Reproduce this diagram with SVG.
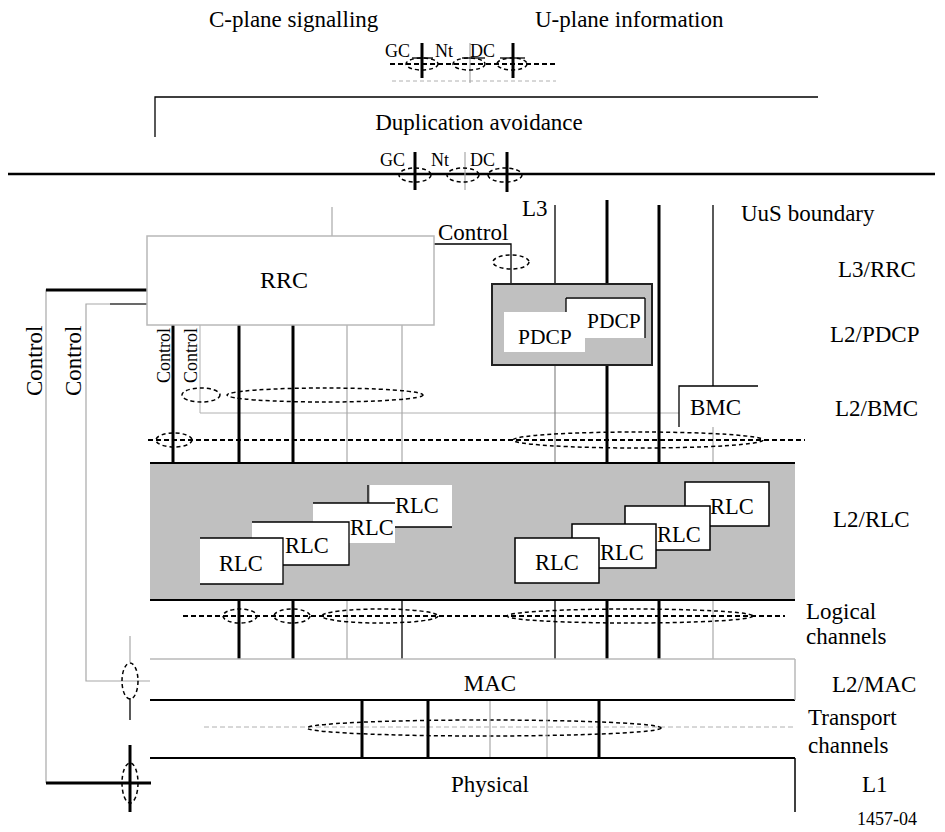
<svg xmlns="http://www.w3.org/2000/svg" width="945" height="832" viewBox="0 0 945 832">
<style>
text{font-family:"Liberation Serif","Times New Roman",serif;fill:#000}
.t{font-size:23px}
.r{font-size:22.5px}
.s{font-size:18px}
.k{stroke:#000;stroke-width:3;fill:none}
.n{stroke:#000;stroke-width:1.3;fill:none}
.g{stroke:#a8a8a8;stroke-width:1.2;fill:none}
.e{stroke:#000;stroke-width:1.5;fill:none;stroke-dasharray:4,3}
.d{stroke:#000;stroke-width:2;fill:none;stroke-dasharray:5,3}
.box{fill:#fff;stroke:#000;stroke-width:1.5}
</style>
<rect width="945" height="832" fill="#fff"/>

<g id="labels">
<text class="t" x="209" y="27">C-plane signalling</text>
<text class="t" x="535" y="27">U-plane information</text>
<text class="t" x="479" y="130" text-anchor="middle">Duplication avoidance</text>
<text class="t" x="522" y="216">L3</text>
<text class="t" x="741" y="221">UuS boundary</text>
<text class="t" x="838" y="277">L3/RRC</text>
<text class="t" x="830" y="342">L2/PDCP</text>
<text class="t" x="835" y="416">L2/BMC</text>
<text class="t" x="833" y="527">L2/RLC</text>
<text class="t" x="806" y="619">Logical</text>
<text class="t" x="806" y="644">channels</text>
<text class="t" x="832" y="692">L2/MAC</text>
<text class="t" x="808" y="725">Transport</text>
<text class="t" x="808" y="753">channels</text>
<text class="t" x="862" y="792">L1</text>
<text class="s" x="857" y="825">1457-04</text>
<text style="font-size:23px" transform="translate(42,396) rotate(-90)">Control</text>
<text style="font-size:23px" transform="translate(81,396) rotate(-90)">Control</text>
<text style="font-size:18px" transform="translate(170,383) rotate(-90)">Control</text>
<text style="font-size:18px" transform="translate(197,383) rotate(-90)">Control</text>
<text class="t" x="438" y="240">Control</text>
</g>

<g id="connectors">
<!-- top symbols -->
<line class="d" x1="390" y1="64" x2="556" y2="64"/>
<line x1="392" y1="81" x2="556" y2="81" stroke="#b0b0b0" stroke-width="1" stroke-dasharray="4,3"/>
<line class="k" x1="422" y1="43" x2="422" y2="78"/>
<line class="g" x1="470" y1="43" x2="470" y2="83"/>
<line class="k" x1="513" y1="43" x2="513" y2="78"/>
<line class="n" x1="412" y1="58" x2="433" y2="58"/>
<line class="n" x1="462" y1="58" x2="485" y2="58"/>
<line class="n" x1="500" y1="58" x2="525" y2="58"/>
<ellipse class="e" cx="422" cy="64" rx="16" ry="6" fill="#fff"/>
<ellipse class="e" cx="469" cy="64" rx="16" ry="6"/>
<ellipse class="e" cx="512" cy="64" rx="15" ry="6"/>
<text class="s" x="385" y="57">GC</text>
<text class="s" x="435" y="57">Nt</text>
<text class="s" x="470" y="57">DC</text>

<!-- duplication bracket -->
<polyline class="n" points="155,137 155,97 818,97"/>

<!-- main boundary -->
<line x1="8" y1="174" x2="935" y2="174" stroke="#000" stroke-width="2.5"/>
<line class="k" x1="415" y1="152" x2="415" y2="190"/>
<line class="g" x1="465" y1="152" x2="465" y2="190"/>
<line class="k" x1="507" y1="152" x2="507" y2="192"/>
<ellipse class="e" cx="415" cy="175" rx="16" ry="7"/>
<ellipse class="e" cx="463" cy="175" rx="16" ry="7"/>
<ellipse class="e" cx="505" cy="175" rx="17" ry="7"/>
<text class="s" x="380" y="166">GC</text>
<text class="s" x="431" y="166">Nt</text>
<text class="s" x="470" y="166">DC</text>

<!-- above RRC -->
<line class="g" x1="332" y1="207" x2="332" y2="236"/>
<!-- control to PDCP -->
<polyline class="n" points="434,244 511,244 511,284"/>
<ellipse class="e" cx="511" cy="262" rx="18" ry="7"/>

<!-- left control lines -->
<polyline points="147,290 46,290 46,783" fill="none" stroke="#a8a8a8" stroke-width="1.2"/>
<line x1="46" y1="290" x2="147" y2="290" stroke="#000" stroke-width="3"/>
<line x1="46" y1="783" x2="151" y2="783" stroke="#000" stroke-width="3"/>
<polyline points="147,304 86,304 86,681 150,681" fill="none" stroke="#a8a8a8" stroke-width="1.2"/>
<line x1="110" y1="304" x2="147" y2="304" stroke="#000" stroke-width="1.2"/>
<line class="g" x1="130" y1="636" x2="130" y2="662"/>
<line class="n" x1="130" y1="698" x2="130" y2="720"/>
<ellipse class="e" cx="130" cy="681" rx="8" ry="18"/>
<line class="k" x1="130" y1="745" x2="130" y2="812"/>
<ellipse class="e" cx="130" cy="783" rx="8" ry="20"/>

<!-- left channel verticals -->
<line class="k" x1="173" y1="325" x2="173" y2="463"/>
<polyline points="200,325 200,413 679,413" fill="none" stroke="#b0b0b0" stroke-width="1"/>
<line class="k" x1="239" y1="325" x2="239" y2="538"/>
<line class="k" x1="239" y1="584" x2="239" y2="659"/>
<line class="k" x1="293" y1="325" x2="293" y2="522"/>
<line class="k" x1="293" y1="565" x2="293" y2="659"/>
<line class="g" x1="347" y1="325" x2="347" y2="503"/>
<line class="g" x1="347" y1="543" x2="347" y2="659"/>
<line class="g" x1="402" y1="325" x2="402" y2="485"/>
<line class="n" x1="402" y1="527" x2="402" y2="659"/>

<!-- right channel verticals -->
<line class="n" x1="555" y1="205" x2="555" y2="312"/>
<line x1="555" y1="352" x2="555" y2="538" stroke="#888" stroke-width="1.2"/>
<line class="n" x1="555" y1="583" x2="555" y2="659"/>
<line class="k" x1="607" y1="200" x2="607" y2="297"/>
<line class="k" x1="607" y1="338" x2="607" y2="524"/>
<line class="k" x1="607" y1="568" x2="607" y2="659"/>
<line class="k" x1="659" y1="205" x2="659" y2="506"/>
<line class="k" x1="659" y1="550" x2="659" y2="659"/>
<line class="n" x1="713" y1="205" x2="713" y2="386"/>
<line class="g" x1="713" y1="386" x2="713" y2="482"/>
<line class="g" x1="713" y1="526" x2="713" y2="659"/>

<!-- upper control bundle row -->
<ellipse class="e" cx="201" cy="395" rx="19" ry="7"/>
<ellipse class="e" cx="325" cy="395" rx="98" ry="7"/>

<!-- BMC row -->
<line class="d" x1="148" y1="440" x2="805" y2="440"/>
<ellipse class="e" cx="174" cy="440" rx="18" ry="7" fill="#fff"/>
<ellipse class="e" cx="638" cy="440" rx="125" ry="8" fill="#fff"/>

<!-- logical channel row -->
<line class="d" x1="183" y1="616" x2="785" y2="616"/>
<ellipse class="e" cx="240" cy="616" rx="17" ry="7" fill="#fff"/>
<ellipse class="e" cx="292" cy="616" rx="18" ry="7" fill="#fff"/>
<ellipse class="e" cx="380" cy="616" rx="58" ry="7" fill="#fff"/>
<ellipse class="e" cx="630" cy="616" rx="123" ry="7" fill="#fff"/>

<!-- transport channels -->
<line x1="204" y1="727" x2="795" y2="727" stroke="#b0b0b0" stroke-width="1" stroke-dasharray="5,3"/>
<ellipse class="e" cx="484" cy="728" rx="177" ry="8" fill="#fff"/>
<line class="k" x1="362" y1="700" x2="362" y2="758"/>
<line class="k" x1="428" y1="700" x2="428" y2="758"/>
<line class="g" x1="490" y1="700" x2="490" y2="758"/>
<line class="g" x1="547" y1="700" x2="547" y2="758"/>
<line class="k" x1="599" y1="700" x2="599" y2="758"/>
</g>

<g id="rrc">
<rect x="147" y="236" width="287" height="89" fill="#fff" stroke="#b8b8b8" stroke-width="1.5"/>
<text x="284" y="288" text-anchor="middle" style="font-size:24px">RRC</text>
</g>

<g id="pdcp">
<rect x="492" y="284" width="160" height="81" fill="#c0c0c0" stroke="#222" stroke-width="2"/>
<rect x="566" y="297" width="79" height="41" fill="#fff"/>
<line class="n" x1="566" y1="298" x2="645" y2="298"/>
<line class="n" x1="645" y1="298" x2="645" y2="338"/>
<line class="n" x1="566" y1="298" x2="566" y2="312"/>
<text x="587" y="328" style="font-size:21.5px">PDCP</text>
<rect x="504" y="312" width="81" height="40" fill="#fff"/>
<text x="518" y="344" style="font-size:21.5px">PDCP</text>
</g>

<g id="bmc">
<rect x="679" y="386" width="79" height="41" fill="#fff"/>
<polyline class="n" points="679,427 679,386 758,386"/>
<text class="t" x="690" y="415">BMC</text>
</g>

<g id="rlc-layer">
<rect x="150" y="463" width="645" height="137" fill="#c0c0c0"/>
<line x1="150" y1="463" x2="795" y2="463" stroke="#000" stroke-width="2"/>
<line x1="150" y1="600" x2="795" y2="600" stroke="#000" stroke-width="2"/>
</g>

<g id="rlc-left">
<rect x="370" y="485" width="82" height="42" fill="#fff"/>
<line class="n" x1="395" y1="527" x2="452" y2="527"/>
<text class="r" x="395" y="513">RLC</text>
<rect x="313" y="503" width="82" height="40" fill="#fff"/>
<line class="n" x1="313" y1="503" x2="395" y2="503"/>
<line class="n" x1="368" y1="485" x2="368" y2="503"/>
<text class="r" x="350" y="535">RLC</text>
<rect x="252" y="522" width="97" height="43" fill="#fff"/>
<polyline class="n" points="252,522 349,522 349,565 283,565"/>
<text class="r" x="285" y="553">RLC</text>
<rect x="200" y="538" width="83" height="46" fill="#fff"/>
<polyline class="n" points="200,538 283,538 283,584 200,584"/>
<text class="r" x="241" y="571" text-anchor="middle">RLC</text>
</g>

<g id="rlc-right">
<rect class="box" x="685" y="482" width="84" height="44"/>
<text class="r" x="710" y="514">RLC</text>
<rect class="box" x="625" y="506" width="85" height="44"/>
<text class="r" x="657" y="542">RLC</text>
<rect class="box" x="572" y="524" width="84" height="44"/>
<text class="r" x="600" y="560">RLC</text>
<rect class="box" x="515" y="538" width="84" height="45"/>
<text class="r" x="557" y="570" text-anchor="middle">RLC</text>
</g>

<g id="mac">
<line x1="150" y1="659" x2="795" y2="659" stroke="#b8b8b8" stroke-width="1.5"/>
<line x1="150" y1="700" x2="795" y2="700" stroke="#000" stroke-width="2"/>
<line x1="795" y1="659" x2="795" y2="700" stroke="#b8b8b8" stroke-width="1.5"/>
<text x="490" y="691" text-anchor="middle" style="font-size:23px">MAC</text>
</g>

<g id="physical">
<line x1="150" y1="758" x2="795" y2="758" stroke="#000" stroke-width="2"/>
<line x1="795" y1="758" x2="795" y2="812" stroke="#000" stroke-width="1.5"/>
<text class="t" x="490" y="792" text-anchor="middle">Physical</text>
</g>
</svg>
